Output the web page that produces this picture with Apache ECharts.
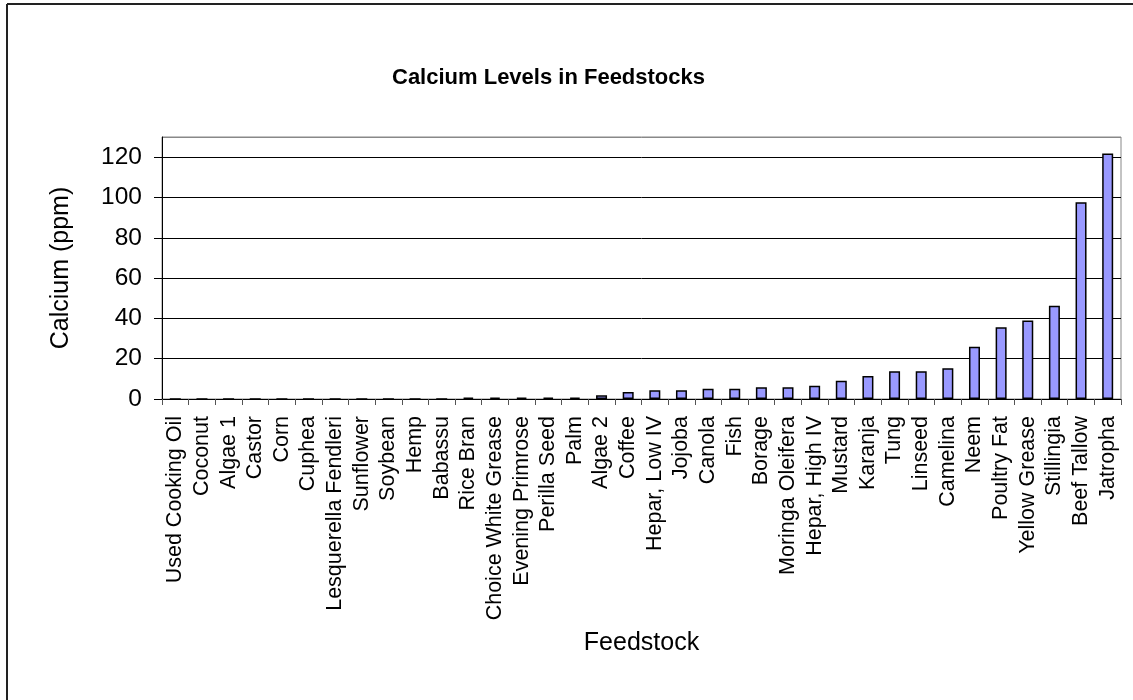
<!DOCTYPE html>
<html>
<head>
<meta charset="utf-8">
<script src="https://cdn.jsdelivr.net/npm/echarts@6/dist/echarts.min.js"></script>
<style>
html,body{margin:0;padding:0;background:#fff;}
#chart{width:1133px;height:700px;}
</style>
</head>
<body>
<div id="chart"></div>
<script>
const categories = ["Used Cooking Oil","Coconut","Algae 1","Castor","Corn","Cuphea","Lesquerella Fendleri","Sunflower","Soybean","Hemp","Babassu","Rice Bran","Choice White Grease","Evening Primrose","Perilla Seed","Palm","Algae 2","Coffee","Hepar, Low IV","Jojoba","Canola","Fish","Borage","Moringa Oleifera","Hepar, High IV","Mustard","Karanja","Tung","Linseed","Camelina","Neem","Poultry Fat","Yellow Grease","Stillingia","Beef Tallow","Jatropha"];
const calcium = [0,0,0,0,0,0,0,0,0,0,0,0.7,0.7,0.7,0.7,0.7,1.8,3.5,4.3,4.3,5.1,5.1,5.8,5.8,6.6,9.1,11.4,13.8,13.8,15.3,25.9,35.6,39.0,46.3,97.6,121.8];
const yTicks = {min: 0, max: 130, interval: 20};

const chart = echarts.init(document.getElementById('chart'));
const font = 'Arial, "Liberation Sans", sans-serif';
chart.setOption({
  animation: false,
  backgroundColor: '#fff',
  title: {
    text: 'Calcium Levels in Feedstocks',
    left: 387, top: 62,
    textStyle: {fontFamily: font, fontSize: 22, fontWeight: 'bold', color: '#000'}
  },
  grid: {left: 162, right: 12, top: 137, bottom: 301, show: true, borderColor: '#888', borderWidth: 1, backgroundColor: 'transparent'},
  xAxis: {
    type: 'category',
    data: categories,
    name: 'Feedstock',
    nameLocation: 'middle',
    nameGap: 232,
    nameTextStyle: {fontFamily: font, fontSize: 25, color: '#000'},
    axisLine: {lineStyle: {color: '#000', width: 1}},
    axisTick: {show: true, length: 6, lineStyle: {color: '#555'}},
    axisLabel: {rotate: 90, interval: 0, fontFamily: font, fontSize: 21.5, color: '#000', margin: 17}
  },
  yAxis: {
    type: 'value',
    min: yTicks.min, max: yTicks.max, interval: yTicks.interval,
    name: 'Calcium (ppm)',
    nameLocation: 'middle',
    nameGap: 88,
    nameTextStyle: {fontFamily: font, fontSize: 25, color: '#000'},
    axisLine: {show: true, lineStyle: {color: '#000', width: 1}},
    axisTick: {show: true, length: 8, lineStyle: {color: '#000'}},
    axisLabel: {fontFamily: font, fontSize: 24.5, color: '#000', margin: 20, showMaxLabel: false},
    splitLine: {show: true, lineStyle: {color: ['#000','#000','#000','#000','#000','#000','#000','#888'], width: 1}}
  },
  series: [{
    type: 'bar',
    data: calcium,
    barWidth: 11,
    itemStyle: {color: '#9999ff', borderColor: '#000', borderWidth: 1.5}
  }],
  graphic: [
    {type: 'line', shape: {x1: 7, y1: 4, x2: 1133, y2: 4}, style: {stroke: '#222', lineWidth: 2}},
    {type: 'line', shape: {x1: 7, y1: 4, x2: 7, y2: 700}, style: {stroke: '#222', lineWidth: 2}}
  ]
});
</script>
</body>
</html>
